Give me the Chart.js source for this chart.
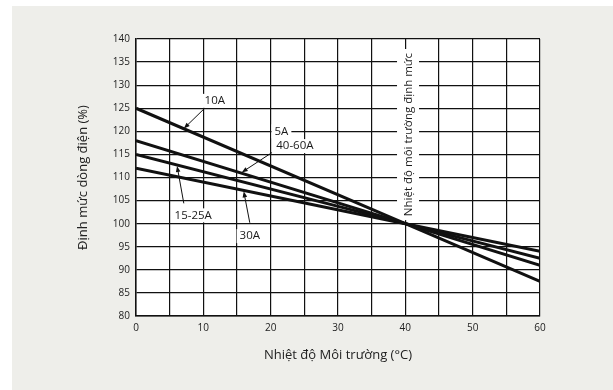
<!DOCTYPE html>
<html>
<head>
<meta charset="utf-8">
<script src="https://cdn.jsdelivr.net/npm/chart.js@4"></script>
<style>
  html, body { margin: 0; padding: 0; background: #fff; }
  #chart { display: block; }
</style>
</head>
<body>
<canvas id="chart" width="613" height="390"></canvas>
<script>
// nhiệt độ môi trường (°C) và định mức dòng điện (%) của từng loại
const nhietDo = [0, 40, 60];
const dong10A = [125, 100, 87.5];
const dong5A = [118, 100, 91];
const dong15_25A = [115, 100, 92.5];
const dong30A = [112, 100, 94];

const xMin = 0, xMax = 60, xStep = 5, xLabelStep = 10;
const yMin = 80, yMax = 140, yStep = 5;

const FONT = '"Open Sans", "Noto Sans", sans-serif';

function toPoints(values) {
  return nhietDo.map((t, i) => ({ x: t, y: values[i] }));
}

// nhãn + mũi tên chỉ vào đường (toạ độ theo đơn vị dữ liệu)
const ghiChu = [
  { text: '10A', x: 11.7, y: 126.6, from: [10.2, 125.0], to: [7.1, 120.6] },
  { text: '5A', x: 21.6, y: 120.0 },
  { text: '40-60A', x: 23.6, y: 116.8, from: [20.2, 115.4], to: [15.7, 111.1] },
  { text: '15-25A', x: 8.5, y: 101.8, from: [7.1, 104.4], to: [6.1, 112.5] },
  { text: '30A', x: 16.9, y: 97.3, from: [16.9, 100.2], to: [16.0, 107.0] }
];
const nhanDoc = { text: 'Nhiệt độ môi trường định mức', x: 40.4, y: 119.3 };

const nenXam = {
  id: 'nenXam',
  beforeDraw(chart) {
    const ctx = chart.ctx, a = chart.chartArea;
    ctx.save();
    ctx.fillStyle = '#fff';
    ctx.fillRect(0, 0, chart.width, chart.height);
    ctx.fillStyle = '#eeeeea';
    ctx.fillRect(12, 6, chart.width - 12, chart.height - 6);
    ctx.fillStyle = '#fff';
    ctx.fillRect(a.left, a.top, a.right - a.left, a.bottom - a.top);
    ctx.restore();
  }
};

function arrow(ctx, x1, y1, x2, y2) {
  const ang = Math.atan2(y2 - y1, x2 - x1);
  const len = 6, half = 2.3;
  ctx.beginPath();
  ctx.moveTo(x1, y1);
  ctx.lineTo(x2 - Math.cos(ang) * len * 0.8, y2 - Math.sin(ang) * len * 0.8);
  ctx.stroke();
  ctx.beginPath();
  ctx.moveTo(x2, y2);
  ctx.lineTo(x2 - Math.cos(ang) * len - Math.sin(ang) * half, y2 - Math.sin(ang) * len + Math.cos(ang) * half);
  ctx.lineTo(x2 - Math.cos(ang) * len + Math.sin(ang) * half, y2 - Math.sin(ang) * len - Math.cos(ang) * half);
  ctx.closePath();
  ctx.fill();
}

const nhanGhiChu = {
  id: 'nhanGhiChu',
  beforeDatasetsDraw(chart) {
    const ctx = chart.ctx, sx = chart.scales.x, sy = chart.scales.y;
    ctx.save();
    ctx.textAlign = 'center';
    ctx.textBaseline = 'middle';

    // chữ dọc tại 40 °C
    ctx.font = '11.5px ' + FONT;
    const px = sx.getPixelForValue(nhanDoc.x), py = sy.getPixelForValue(nhanDoc.y);
    const w = ctx.measureText(nhanDoc.text).width;
    ctx.fillStyle = '#fff';
    ctx.fillRect(px - 11, py - w / 2 - 4, 22, w + 8);
    ctx.translate(px, py);
    ctx.rotate(-Math.PI / 2);
    ctx.fillStyle = '#1a1a1a';
    ctx.fillText(nhanDoc.text, 0, 1);
    ctx.setTransform(1, 0, 0, 1, 0, 0);

    ctx.font = '11.5px ' + FONT;
    ghiChu.forEach(g => {
      const x = sx.getPixelForValue(g.x), y = sy.getPixelForValue(g.y);
      const tw = ctx.measureText(g.text).width;
      ctx.fillStyle = '#fff';
      ctx.fillRect(x - tw / 2 - 3, y - 7, tw + 6, 14);
      ctx.fillStyle = '#1a1a1a';
      ctx.fillText(g.text, x, y);
    });
    ctx.restore();
  },
  afterDatasetsDraw(chart) {
    const ctx = chart.ctx, sx = chart.scales.x, sy = chart.scales.y;
    ctx.save();
    ctx.strokeStyle = '#111';
    ctx.fillStyle = '#111';
    ctx.lineWidth = 1;
    ghiChu.filter(g => g.from).forEach(g => {
      arrow(ctx,
        sx.getPixelForValue(g.from[0]), sy.getPixelForValue(g.from[1]),
        sx.getPixelForValue(g.to[0]), sy.getPixelForValue(g.to[1]));
    });
    ctx.restore();
  }
};

const duong = (label, values) => ({
  label,
  data: toPoints(values),
  showLine: true,
  borderColor: '#111',
  backgroundColor: '#111',
  borderWidth: 3,
  pointRadius: 0,
  tension: 0
});

new Chart(document.getElementById('chart'), {
  type: 'scatter',
  data: {
    datasets: [
      duong('10A', dong10A),
      duong('5A, 40-60A', dong5A),
      duong('15-25A', dong15_25A),
      duong('30A', dong30A)
    ]
  },
  options: {
    responsive: false,
    animation: false,
    devicePixelRatio: 1,
    layout: { padding: { left: 0, top: 39, right: 73, bottom: 0 } },
    plugins: { legend: { display: false }, tooltip: { enabled: false } },
    scales: {
      x: {
        type: 'linear',
        min: xMin, max: xMax,
        afterFit: s => { s.height = 74; },
        ticks: {
          stepSize: xStep,
          autoSkip: false,
          maxRotation: 0,
          padding: 6,
          color: '#222',
          font: { family: FONT, size: 10 },
          callback: v => (v % xLabelStep === 0 ? v : '')
        },
        grid: { color: '#111', lineWidth: 1.2, drawTicks: false },
        border: { color: '#111', width: 1.5 },
        title: {
          display: true,
          text: 'Nhiệt độ Môi trường (°C)',
          color: '#222',
          font: { family: FONT, size: 13 },
          padding: { top: 0, bottom: 27 }
        }
      },
      y: {
        min: yMin, max: yMax,
        afterFit: s => { s.width = 136; },
        ticks: {
          stepSize: yStep,
          autoSkip: false,
          padding: 6,
          color: '#222',
          font: { family: FONT, size: 10 }
        },
        grid: { color: '#111', lineWidth: 1.2, drawTicks: false },
        border: { color: '#111', width: 1.5 },
        title: {
          display: true,
          text: 'Định mức dòng điện (%)',
          color: '#222',
          font: { family: FONT, size: 13 },
          padding: { top: 75, bottom: 0 }
        }
      }
    }
  },
  plugins: [nenXam, nhanGhiChu]
});
</script>
</body>
</html>
